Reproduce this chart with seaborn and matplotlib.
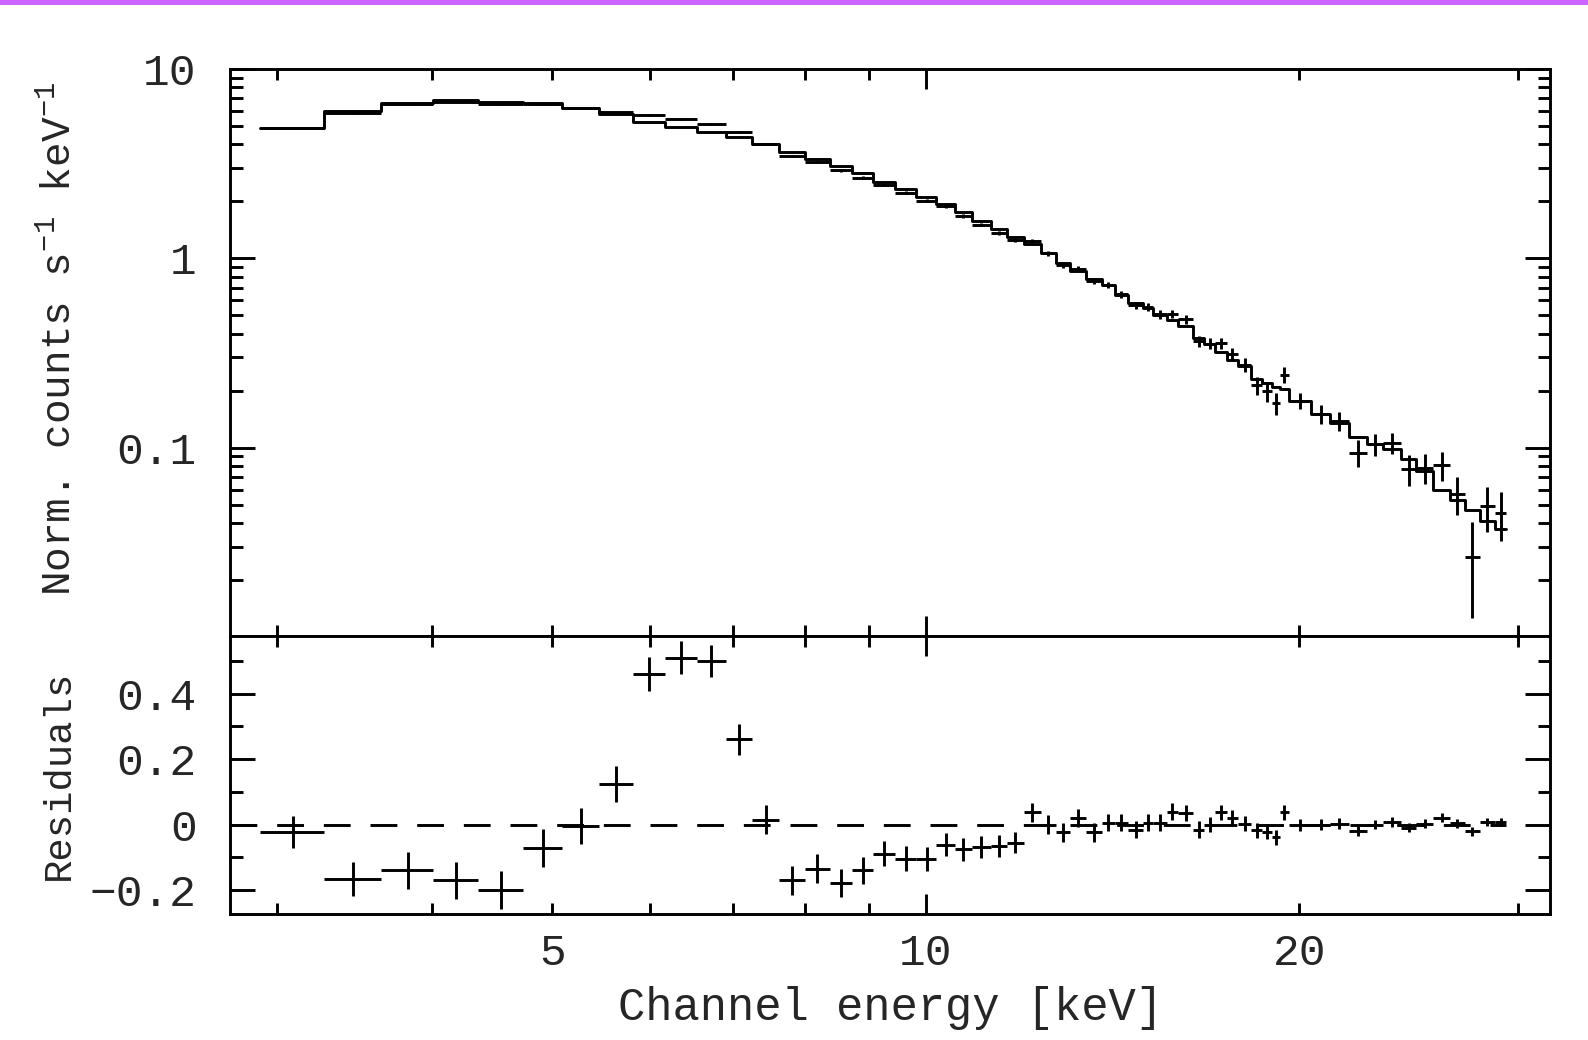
import numpy as np
import pandas as pd
import matplotlib
matplotlib.use("Agg")
import matplotlib.pyplot as plt
import seaborn as sns
from matplotlib.ticker import FixedLocator, FuncFormatter, NullFormatter

# ---------------- data ----------------
bin_edges = [2.91, 3.275, 3.64, 4.01, 4.36, 4.74, 5.09, 5.45, 5.81, 6.16, 6.54,
             6.90, 7.25, 7.62, 7.99, 8.37, 8.72, 9.07, 9.45, 9.83, 10.20, 10.56,
             10.89, 11.29, 11.62, 11.99, 12.38, 12.73, 13.08, 13.46, 13.86, 14.20,
             14.56, 14.97, 15.26, 15.64, 15.97, 16.42, 16.77, 17.12, 17.48, 17.85,
             18.29, 18.68, 19.00, 19.30, 19.61, 20.45, 21.17, 21.92, 22.66, 23.38,
             24.16, 24.83, 25.64, 26.45, 27.19, 27.96, 28.75, 29.36]

model_counts = [4.88, 6.00, 6.64, 6.86, 6.72, 6.59, 6.20, 5.79, 5.27, 4.92,
                4.63, 4.38, 4.00, 3.66, 3.35, 3.09, 2.81, 2.54, 2.32, 2.12,
                1.94, 1.75, 1.576, 1.43, 1.30, 1.19, 1.06, 0.94, 0.86, 0.78,
                0.72, 0.64, 0.58, 0.547, 0.50, 0.47, 0.44, 0.38, 0.354, 0.32,
                0.29, 0.27, 0.23, 0.22, 0.21, 0.205, 0.177, 0.15, 0.135, 0.113,
                0.104, 0.098, 0.087, 0.075, 0.0596, 0.0528, 0.0465, 0.041, 0.0372]

residuals = [-0.022, -0.165, -0.14, -0.17, -0.20, -0.07, -0.005, 0.125, 0.46, 0.51,
             0.50, 0.26, 0.015, -0.17, -0.135, -0.178, -0.14, -0.089, -0.104, -0.104,
             -0.061, -0.075, -0.068, -0.065, -0.055, 0.037, 0.0, -0.024, 0.021, -0.024,
             0.006, 0.006, -0.015, 0.005, 0.005, 0.039, 0.036, -0.015, 0.0, 0.037,
             0.021, 0.003, -0.017, -0.022, -0.038, 0.037, 0.0, 0.0, 0.003, -0.019,
             0.0, 0.008, -0.010, 0.003, 0.021, 0.004, -0.020, 0.008, 0.008]

data_err = [0.049, 0.052, 0.056, 0.056, 0.058, 0.058, 0.055, 0.055,
            0.052, 0.050, 0.048, 0.047, 0.044,
            0.044, 0.044, 0.042, 0.040, 0.038, 0.038, 0.037,
            0.036, 0.035, 0.034, 0.033, 0.032, 0.030,
            0.030, 0.029, 0.028, 0.028, 0.027, 0.027, 0.026, 0.026, 0.026,
            0.026, 0.025, 0.025, 0.024, 0.024, 0.024, 0.023, 0.023, 0.023, 0.023, 0.023,
            0.018, 0.017, 0.016, 0.015, 0.014, 0.014,
            0.014, 0.014, 0.014, 0.013, 0.014, 0.013, 0.013]

x_ticks_major = [10]
x_ticks_minor = [3, 4, 5, 6, 7, 8, 9, 20, 30]
x_labeled_minor = [5, 20]
y_top_major = [0.01, 0.1, 1, 10]
y_top_labels = {0.1: "0.1", 1: "1", 10: "10"}
y_bot_major = [-0.2, 0.0, 0.2, 0.4]
y_bot_labels = ["\u22120.2", "0", "0.2", "0.4"]
y_bot_minor = [-0.1, 0.1, 0.3, 0.5]

XMIN, XMAX = 2.75, 31.85
YMIN_TOP, YMAX_TOP = 0.0101, 10.0
YMIN_BOT, YMAX_BOT = -0.273, 0.576

# ---------------- derived tables ----------------
edges = np.array(bin_edges)
lo, hi = edges[:-1], edges[1:]
centers = 0.5 * (lo + hi)
model = np.array(model_counts)
resid = np.array(residuals)
data = model + resid
err = np.array(data_err)

step_df = pd.DataFrame({"E": edges, "model": np.append(model, model[-1])})
zero_df = pd.DataFrame({"E": [XMIN, edges[-1]], "r": [0.0, 0.0]})

# ---------------- style ----------------
sns.set_theme(style="ticks")
FONT = ["Liberation Mono", "DejaVu Sans Mono"]
plt.rcParams["font.family"] = FONT
plt.rcParams["mathtext.fontset"] = "custom"
plt.rcParams["mathtext.rm"] = "Liberation Mono"
plt.rcParams["mathtext.it"] = "Liberation Mono"
plt.rcParams["mathtext.default"] = "rm"
plt.rcParams["axes.unicode_minus"] = True

LW = 2.1
FS = 32
FS_YLAB_TOP = 29.5
FS_YLAB_BOT = 28
FS_XLAB = 32.8

fig = plt.figure(figsize=(15.88, 10.40), dpi=100)
fig.patch.set_facecolor("white")
W, H = 1588.0, 1040.0
ax1 = fig.add_axes([230 / W, 1 - 636 / H, 1320 / W, 567 / H])
ax2 = fig.add_axes([230 / W, 1 - 914 / H, 1320 / W, 278 / H])

# purple header stripe
fig.add_artist(plt.Rectangle((0, 1 - 5 / H), 1, 5 / H, transform=fig.transFigure,
                             color="#cc66ff", lw=0))

# ---- top panel ----
ax1.set_xscale("log")
ax1.set_yscale("log")
sns.lineplot(data=step_df, x="E", y="model", ax=ax1, drawstyle="steps-post",
             color="black", lw=LW, estimator=None, sort=False, legend=False)
ax1.errorbar(centers, data, xerr=[centers - lo, hi - centers], yerr=err,
             fmt="none", ecolor="black", elinewidth=LW, capsize=0)
ax1.set_xlim(XMIN, XMAX)
ax1.set_ylim(YMIN_TOP, YMAX_TOP)

# ---- residual panel ----
ax2.set_xscale("log")
ax2.errorbar(centers, resid, xerr=[centers - lo, hi - centers], yerr=err,
             fmt="none", ecolor="black", elinewidth=LW, capsize=0)
sns.lineplot(data=zero_df, x="E", y="r", ax=ax2, color="black", lw=LW,
             estimator=None, sort=False, legend=False)
ax2.lines[-1].set_linestyle((0, (9.2, 6.8)))
ax2.set_xlim(XMIN, XMAX)
ax2.set_ylim(YMIN_BOT, YMAX_BOT)

# ---- ticks ----
for ax in (ax1, ax2):
    ax.xaxis.set_major_locator(FixedLocator(x_ticks_major))
    ax.xaxis.set_minor_locator(FixedLocator(x_ticks_minor))
    for s in ax.spines.values():
        s.set_linewidth(LW)
        s.set_color("black")
    ax.tick_params(axis="x", which="major", direction="in", length=14.5, width=LW,
                   top=True, bottom=True, color="black", labelsize=FS, pad=14)
    ax.tick_params(axis="x", which="minor", direction="in", length=7.7, width=LW,
                   top=True, bottom=True, color="black", labelsize=FS, pad=14)
    ax.set_facecolor("white")

ax1.xaxis.set_major_formatter(NullFormatter())
ax1.xaxis.set_minor_formatter(NullFormatter())
ax2.xaxis.set_major_formatter(FuncFormatter(lambda v, p: f"{v:g}"))
ax2.xaxis.set_minor_formatter(
    FuncFormatter(lambda v, p: f"{v:g}" if any(abs(v - t) < 1e-6 for t in x_labeled_minor) else ""))

y_top_minor = [k * 10.0 ** d for d in (-2, -1, 0) for k in range(2, 10)]
ax1.yaxis.set_major_locator(FixedLocator(y_top_major))
ax1.yaxis.set_minor_locator(FixedLocator(y_top_minor))
ax1.yaxis.set_major_formatter(
    FuncFormatter(lambda v, p: next((s for k, s in y_top_labels.items() if abs(v - k) < 1e-9 * max(k, 1)), "")))
ax1.yaxis.set_minor_formatter(NullFormatter())

ax2.yaxis.set_major_locator(FixedLocator(y_bot_major))
ax2.set_yticklabels(y_bot_labels)
ax2.yaxis.set_minor_locator(FixedLocator(y_bot_minor))

for ax in (ax1, ax2):
    ax.tick_params(axis="y", which="major", direction="in", length=18, width=LW,
                   left=True, right=True, color="black", labelsize=FS, pad=24)
    ax.tick_params(axis="y", which="minor", direction="in", length=9, width=LW,
                   left=True, right=True, color="black")
    for lab in ax.get_xticklabels(which="both") + ax.get_yticklabels(which="both"):
        lab.set_family(FONT)

# ---- axis labels ----
ax1.set_xlabel("")
ax1.set_ylabel(r"Norm. counts s$^{-1}$ keV$^{-1}$", fontsize=FS_YLAB_TOP, family=FONT)
ax1.yaxis.label.set_va("center")
ax1.yaxis.set_label_coords(-0.130, 0.524)

ax2.set_ylabel("Residuals", fontsize=FS_YLAB_BOT, family=FONT)
ax2.yaxis.label.set_va("center")
ax2.yaxis.set_label_coords(-0.130, 0.5)

ax2.set_xlabel("Channel energy [keV]", fontsize=FS_XLAB, family=FONT)
ax2.xaxis.label.set_va("center")
ax2.xaxis.set_label_coords(0.5, -0.338)

fig.savefig("out.png", dpi=100, facecolor="white")
